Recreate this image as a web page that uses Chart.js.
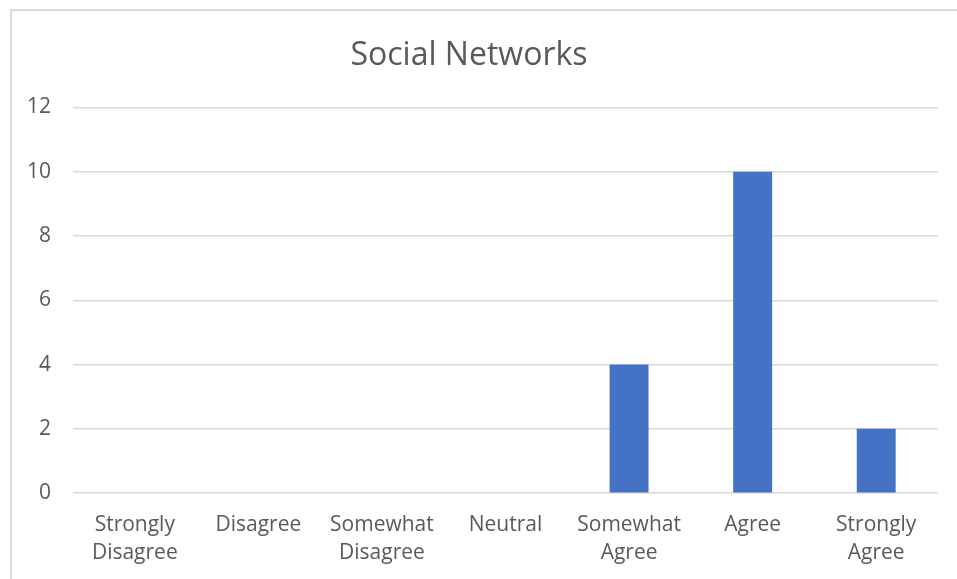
<!DOCTYPE html>
<html>
<head>
<meta charset="utf-8">
<script src="https://cdn.jsdelivr.net/npm/chart.js@4/dist/chart.umd.min.js"></script>
<style>
  html, body { margin: 0; padding: 0; background: #fff; overflow: hidden; }
  #frame { position: absolute; left: 10px; top: 9px; width: 960px; height: 580px;
           border-left: 2px solid #d9d9d9; border-top: 2px solid #d9d9d9; }
  #wrap { position: absolute; left: 0; top: 0; width: 957px; height: 585px; }
</style>
</head>
<body>
<div id="frame"></div>
<div id="wrap"><canvas id="myChart"></canvas></div>
<script>
const categories = [
  ["Strongly", "Disagree"], "Disagree", ["Somewhat", "Disagree"], "Neutral",
  ["Somewhat", "Agree"], "Agree", ["Strongly", "Agree"]
];
const counts = [0, 0, 0, 0, 4, 10, 2];
const yTicks = [0, 2, 4, 6, 8, 10, 12];
const chartTitle = "Social Networks";

const ink = "#595959";
const grid = "#d9d9d9";

const ctx = document.getElementById("myChart");
new Chart(ctx, {
  type: "bar",
  data: {
    labels: categories,
    datasets: [{
      label: chartTitle,
      data: counts,
      backgroundColor: "#4472c4",
      borderWidth: 0,
      categoryPercentage: 1,
      barPercentage: 0.315
    }]
  },
  options: {
    responsive: true,
    maintainAspectRatio: false,
    animation: false,
    layout: { padding: { left: 0, right: 19, top: 0, bottom: 0 } },
    plugins: {
      legend: { display: false },
      tooltip: { enabled: false },
      title: {
        display: true,
        text: chartTitle,
        color: ink,
        font: { family: "'Open Sans', sans-serif", size: 32, weight: "normal" },
        padding: { top: 37, bottom: 32 }
      }
    },
    scales: {
      x: {
        grid: { display: false, drawTicks: false },
        border: { display: false },
        ticks: {
          color: ink,
          maxRotation: 0,
          autoSkip: false,
          padding: 18,
          font: { family: "'Open Sans', sans-serif", size: 21, lineHeight: 1.33 }
        }
      },
      y: {
        min: 0,
        max: 12,
        afterBuildTicks: (s) => { s.ticks = yTicks.map(v => ({ value: v })); },
        afterFit: (s) => { s.width = 73; },
        grid: { color: grid, lineWidth: 1.5, drawTicks: false },
        border: { display: false },
        ticks: {
          color: ink,
          padding: 22,
          font: { family: "'Open Sans', sans-serif", size: 21 }
        }
      }
    }
  }
});
</script>
</body>
</html>
